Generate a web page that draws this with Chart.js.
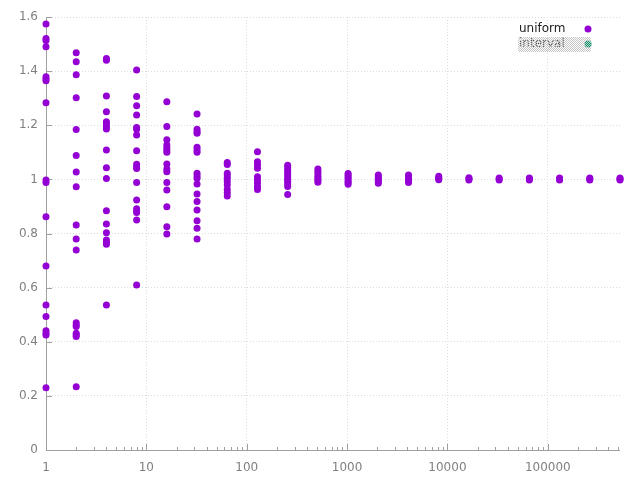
<!DOCTYPE html>
<html>
<head>
<meta charset="utf-8">
<script src="https://cdn.jsdelivr.net/npm/chart.js@4/dist/chart.umd.min.js"></script>
<style>
html,body{margin:0;padding:0;background:#fff;}
#c{display:block;}
</style>
</head>
<body>
<canvas id="c" width="640" height="480"></canvas>
<script>
// ---- data ----
const sizes = [1,2,4,8,16,32,64,128,256,512,1024,2048,4096,8192,16384,32768,65536,131072,262144,524288];
const uniformRatios = [
  [1.574,1.521,1.513,1.490,1.379,1.371,1.364,1.283,0.998,0.988,0.862,0.680,0.536,0.493,0.441,0.431,0.425,0.230],
  [1.468,1.435,1.387,1.302,1.184,1.088,1.027,0.973,0.831,0.780,0.739,0.470,0.462,0.456,0.431,0.425,0.419,0.234],
  [1.447,1.440,1.308,1.250,1.213,1.205,1.195,1.186,1.109,1.043,1.003,0.884,0.835,0.803,0.776,0.768,0.760,0.536],
  [1.404,1.306,1.272,1.238,1.192,1.185,1.164,1.106,1.056,1.047,1.040,0.988,0.924,0.891,0.883,0.878,0.850,0.610],
  [1.287,1.195,1.146,1.127,1.117,1.109,1.100,1.057,1.038,1.028,0.988,0.961,0.899,0.825,0.798],
  [1.242,1.185,1.176,1.170,1.119,1.109,1.100,1.023,1.013,1.004,0.983,0.946,0.918,0.887,0.847,0.819,0.780],
  [1.062,1.055,1.023,1.013,1.004,0.992,0.979,0.963,0.951,0.939],
  [1.102,1.065,1.053,1.041,1.010,0.998,0.986,0.973,0.963],
  [1.052,1.043,1.035,1.026,1.017,1.009,1.000,0.992,0.983,0.974,0.944],
  [1.038,1.030,1.021,1.012,1.004,0.997,0.989],
  [1.022,1.015,1.008,1.001,0.994,0.988,0.982],
  [1.016,1.010,1.004,0.998,0.992,0.986],
  [1.016,1.009,1.002,0.995,0.988],
  [1.012,1.006,1.003,0.999],
  [1.006,1.002,0.998],
  [1.005,1.001,0.998],
  [1.005,1.001,0.998],
  [1.005,1.001,0.998],
  [1.005,1.001,0.998],
  [1.005,1.001,0.998]
];
const intervalRatios = []; // hidden series in the reference
const xTickValues = [1,10,100,1000,10000,100000];
const yTickValues = [0,0.2,0.4,0.6,0.8,1,1.2,1.4,1.6];
const seriesNames = ['uniform','interval'];

// ---- build points ----
const uniformPoints = [];
sizes.forEach((n,i)=>{ uniformRatios[i].forEach(v=>uniformPoints.push({x:n,y:v})); });

const PURPLE = '#9400d3';
const GREEN = '#009e73';
const AXIS = '#a0a0a0';
const GRID = '#dcdcdc';
const FONT = '"DejaVu Sans", sans-serif';

const axisPlugin = {
  id:'axisExtras',
  beforeDatasetsDraw(chart){
    const ctx = chart.ctx, xs = chart.scales.x, ys = chart.scales.y, a = chart.chartArea;
    ctx.save();
    ctx.strokeStyle = AXIS; ctx.lineWidth = 1;
    ctx.beginPath();
    ctx.moveTo(Math.round(a.left)+0.5, a.top); ctx.lineTo(Math.round(a.left)+0.5, Math.round(a.bottom)+0.5);
    ctx.lineTo(a.right, Math.round(a.bottom)+0.5);
    ctx.stroke();
    ctx.beginPath();
    yTickValues.forEach(v=>{
      const y = Math.round(ys.getPixelForValue(v))+0.5;
      ctx.moveTo(a.left, y); ctx.lineTo(a.left+6, y);
    });
    for(let d=1; d<=xs.max; d*=10){
      for(let k=1;k<=9;k++){
        const v = d*k; if(v>xs.max) break;
        const x = Math.round(xs.getPixelForValue(v))+0.5;
        const len = k===1?6:3;
        ctx.moveTo(x, a.bottom); ctx.lineTo(x, a.bottom-len);
      }
    }
    ctx.stroke();
    ctx.restore();
  },
  afterDraw(chart){
    const ctx = chart.ctx;
    ctx.save();
    ctx.font = '12px '+FONT;
    ctx.textBaseline = 'middle';
    ctx.textAlign = 'left';
    const lx = 519, r1 = 29, r2 = 44, dotX = 588;
    ctx.fillStyle = '#202020';
    ctx.fillText(seriesNames[0], lx, r1);
    ctx.fillStyle = PURPLE;
    ctx.beginPath(); ctx.arc(dotX, r1, 3.5, 0, Math.PI*2); ctx.fill();
    const pc = document.createElement('canvas'); pc.width=2; pc.height=2;
    const pctx = pc.getContext('2d');
    pctx.fillStyle='#c4c4c4'; pctx.fillRect(0,0,1,1); pctx.fillRect(1,1,1,1);
    const pat = ctx.createPattern(pc,'repeat');
    ctx.fillStyle = '#505050';
    ctx.fillText(seriesNames[1], lx, r2);
    ctx.fillStyle = GREEN;
    ctx.beginPath(); ctx.arc(dotX, r2, 3.5, 0, Math.PI*2); ctx.fill();
    ctx.fillStyle = pat;
    ctx.fillRect(518, 37, 73, 15);
    ctx.restore();
  }
};

new Chart(document.getElementById('c'), {
  type:'scatter',
  data:{
    datasets:[
      {label:seriesNames[0], data:uniformPoints, backgroundColor:PURPLE, borderWidth:0, pointRadius:3.5, pointHoverRadius:3.5, clip:false},
      {label:seriesNames[1], data:intervalRatios, backgroundColor:GREEN, borderWidth:0, pointRadius:3.5, hidden:true, clip:false}
    ]
  },
  options:{
    responsive:false,
    animation:false,
    events:[],
    layout:{padding:{top:17,right:20,left:0,bottom:0}},
    plugins:{legend:{display:false}, tooltip:{enabled:false}},
    scales:{
      x:{
        type:'logarithmic', min:1, max:524288,
        afterBuildTicks(s){ s.ticks = xTickValues.map(v=>({value:v, major:true})); },
        afterFit(s){ s.height = 30; },
        ticks:{autoSkip:false, maxRotation:0, color:'#808080', font:{family:FONT,size:12}, padding:11,
               callback:(v)=>String(v)},
        grid:{color:GRID, lineWidth:1, drawTicks:false},
        border:{display:false, dash:[1,2]}
      },
      y:{
        type:'linear', min:0, max:1.6,
        afterBuildTicks(s){ s.ticks = yTickValues.map(v=>({value:v})); },
        afterFit(s){ s.width = 46; },
        ticks:{color:'#808080', font:{family:FONT,size:12}, padding:8,
               callback:(v)=>String(Math.round(v*10)/10)},
        grid:{color:GRID, lineWidth:1, drawTicks:false},
        border:{display:false, dash:[1,2]}
      }
    }
  },
  plugins:[axisPlugin]
});
</script>
</body>
</html>
